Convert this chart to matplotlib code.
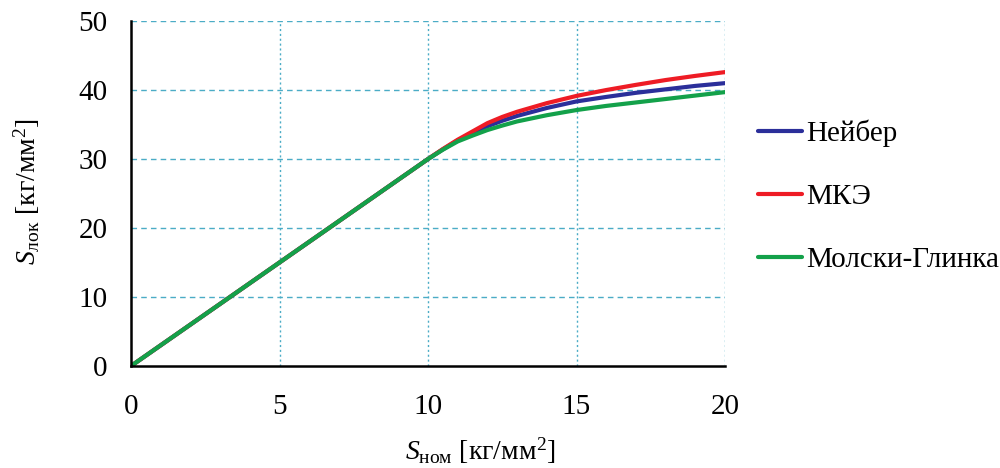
import matplotlib
matplotlib.use("Agg")
import matplotlib.pyplot as plt

plt.rcParams['font.family'] = ['Liberation Serif', 'DejaVu Serif']
plt.rcParams['mathtext.fontset'] = 'custom'
plt.rcParams['mathtext.rm'] = 'Liberation Serif'
plt.rcParams['mathtext.it'] = 'Liberation Serif:italic'

# nominal stress and local stress by method
s_nom = [0, 9.5, 10, 10.5, 11, 11.5, 12, 12.5, 13, 14, 15, 16, 17, 18, 19, 20]
neuber = [0, 28.5, 30, 31.4, 32.7, 33.8, 34.75, 35.55, 36.25, 37.4, 38.35, 39.0, 39.6, 40.1, 40.6, 41.0]
fem = [0, 28.5, 30, 31.45, 32.8, 34.0, 35.2, 36.1, 36.85, 38.1, 39.15, 40.0, 40.75, 41.45, 42.05, 42.6]
molski = [0, 28.5, 30, 31.35, 32.55, 33.4, 34.2, 34.85, 35.45, 36.35, 37.1, 37.7, 38.2, 38.7, 39.2, 39.7]
labels = ['Нейбер', 'МКЭ', 'Молски-Глинка']
x_ticks = [0, 5, 10, 15, 20]
y_ticks = [0, 10, 20, 30, 40, 50]

fig = plt.figure(figsize=(10, 4.68), dpi=100)
ax = fig.add_axes([0.131, 0.218, 0.594, 0.737])

grid_c = '#4bacc6'
for yv in y_ticks[1:]:
    ax.axhline(yv, color=grid_c, lw=1, ls=(0, (4, 3)), zorder=1)
for xv in x_ticks[1:]:
    ax.axvline(xv, color=grid_c, lw=1, ls=(0, (1.5, 2)), zorder=1)

line_kw = dict(lw=3, solid_joinstyle='round', solid_capstyle='round')
ax.plot(s_nom, neuber, color='#2b2f9a', label=labels[0], zorder=3, **line_kw)
ax.plot(s_nom, fem, color='#ee1c25', label=labels[1], zorder=3, **line_kw)
ax.plot(s_nom, molski, color='#13a14a', label=labels[2], zorder=4, **line_kw)

ax.set_xlim(0, 20)
ax.set_ylim(0, 50)
ax.set_xticks(x_ticks)
ax.set_yticks(y_ticks)
ax.tick_params(length=0, labelsize=21)
ax.tick_params(axis='y', pad=17)
ax.tick_params(axis='x', pad=20)
for side in ['top', 'right']:
    ax.spines[side].set_visible(False)
for side in ['left', 'bottom']:
    ax.spines[side].set_linewidth(1.8)
    ax.spines[side].set_zorder(5)

fig.text(0.48, 0.036, r'$S_{\mathregular{ном}}$ [кг/мм$^{2}$]', fontsize=20,
         ha='center', va='center')
fig.text(0.027, 0.59, r'$S_{\mathregular{лок}}$ [кг/мм$^{2}$]', fontsize=20,
         ha='center', va='center', rotation=90)

ax.legend(loc='center left', bbox_to_anchor=(0.758, 0.581),
          bbox_transform=fig.transFigure, frameon=False, fontsize=21,
          handlelength=1.5, handletextpad=0.15, labelspacing=1.25,
          borderpad=0, borderaxespad=0)

fig.savefig('out.png', dpi=100)
